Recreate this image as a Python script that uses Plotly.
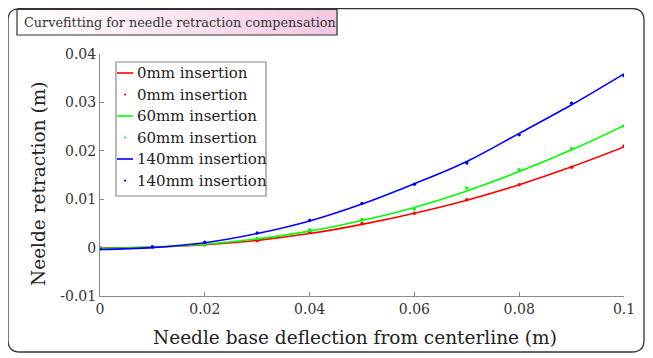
import plotly.graph_objects as go

# ---- data ----
x_vals = [0.0, 0.01, 0.02, 0.03, 0.04, 0.05, 0.06, 0.07, 0.08, 0.09, 0.1]

# measured points
pts_0mm = [0.0000, 0.0002, 0.0006, 0.0014, 0.0031, 0.0050, 0.0071, 0.0099, 0.0130, 0.0166, 0.0210]
pts_60mm = [0.0000, 0.0002, 0.0007, 0.0019, 0.0037, 0.0058, 0.0080, 0.0123, 0.0161, 0.0204, 0.0251]
pts_140mm = [-0.0003, 0.0001, 0.0011, 0.0030, 0.0056, 0.0091, 0.0131, 0.0175, 0.0233, 0.0298, 0.0355]

# fitted curves
fit_0mm = [-0.0001, 0.0001, 0.0006, 0.0015, 0.0029, 0.0048, 0.0071, 0.0098, 0.0130, 0.0167, 0.0208]
fit_60mm = [-0.0002, 0.0001, 0.0007, 0.0018, 0.0034, 0.0056, 0.0083, 0.0117, 0.0157, 0.0202, 0.0252]
fit_140mm = [-0.0004, 0.0000, 0.0010, 0.0029, 0.0055, 0.0090, 0.0132, 0.0178, 0.0236, 0.0295, 0.0359]

series_names = ["0mm insertion", "60mm insertion", "140mm insertion"]
series_colors = ["#ff0000", "#00ff00", "#0000ff"]

x_tickvals = [0, 0.02, 0.04, 0.06, 0.08, 0.1]
x_ticktext = ["0", "0.02", "0.04", "0.06", "0.08", "0.1"]
y_tickvals = [-0.01, 0, 0.01, 0.02, 0.03, 0.04]
y_ticktext = ["-0.01", "0", "0.01", "0.02", "0.03", "0.04"]

title_text = "Curvefitting for needle retraction compensation"
x_title = "Needle base deflection from centerline (m)"
y_title = "Neelde retraction (m)"

FONT = "DejaVu Serif, Liberation Serif, serif"
TXT = "#222222"

# ---- geometry (page offset of 8px from the body margin is compensated) ----
OFF = 8
W, H = 653 - OFF, 358 - OFF
L_ref, R_ref, T_ref, B_ref = 100, 624, 54, 296
L, T = L_ref - OFF, T_ref - OFF
R = W - (R_ref - OFF)
B = H - (B_ref - OFF)
pw, ph = W - L - R, H - T - B


def px(xr):
    return (xr - OFF - L) / pw


def py(yr):
    return (H - B - (yr - OFF)) / ph


fig = go.Figure()
for name, color, fit, pts in zip(series_names, series_colors,
                                 [fit_0mm, fit_60mm, fit_140mm],
                                 [pts_0mm, pts_60mm, pts_140mm]):
    fig.add_trace(go.Scatter(x=x_vals, y=fit, mode="lines", name=name, showlegend=False,
                             line=dict(color=color, width=1.6, shape="spline", smoothing=1.0)))
    fig.add_trace(go.Scatter(x=x_vals, y=pts, mode="markers", name=name, showlegend=False,
                             marker=dict(color=color, size=3.5)))

shapes = []
annotations = []

# outer rounded frame
x0, x1, y0, y1, r = 8, 644, 8.6, 352, 12
path = (f"M {px(x0 + r)} {py(y0)} L {px(x1 - r)} {py(y0)} "
        f"Q {px(x1)} {py(y0)} {px(x1)} {py(y0 + r)} L {px(x1)} {py(y1 - r)} "
        f"Q {px(x1)} {py(y1)} {px(x1 - r)} {py(y1)} L {px(x0 + r)} {py(y1)} "
        f"Q {px(x0)} {py(y1)} {px(x0)} {py(y1 - r)} L {px(x0)} {py(y0 + r)} "
        f"Q {px(x0)} {py(y0)} {px(x0 + r)} {py(y0)} Z")
shapes.append(dict(type="path", xref="paper", yref="paper", path=path,
                   line=dict(color="#333333", width=1.3), layer="below"))

# title box with gradient fill (white -> pink)
bx0, bx1, by0, by1 = 17, 337, 9.5, 35
n = 32
for i in range(n):
    t = i / (n - 1)
    rr = 255 - int(t * 12)
    gg = 255 - int(t * 55)
    bb = 255 - int(t * 30)
    xa = bx0 + (bx1 - bx0) * i / n
    xb = bx0 + (bx1 - bx0) * (i + 1) / n
    shapes.append(dict(type="rect", xref="paper", yref="paper",
                       x0=px(xa), x1=px(xb + 0.6), y0=py(by1), y1=py(by0),
                       fillcolor=f"rgb({rr},{gg},{bb})", line=dict(width=0), layer="below"))
shapes.append(dict(type="rect", xref="paper", yref="paper",
                   x0=px(bx0), x1=px(bx1), y0=py(by1), y1=py(by0),
                   line=dict(color="#333333", width=1.2)))
annotations.append(dict(text=title_text, xref="paper", yref="paper",
                        x=px(22), y=py(22.5), xanchor="left", yanchor="middle",
                        showarrow=False, font=dict(family=FONT, size=12.8, color="#333333")))

# legend box (drawn to match the reference's compact legend)
lx0, lx1, ly0, ly1 = 116, 266, 62, 196
shapes.append(dict(type="rect", xref="paper", yref="paper",
                   x0=px(lx0), x1=px(lx1), y0=py(ly1), y1=py(ly0),
                   fillcolor="white", line=dict(color="#888888", width=1.2)))
row_y = [73, 94.5, 116, 137.5, 159, 180.5]
k = 0
for name, color in zip(series_names, series_colors):
    # line sample
    yl = row_y[k]
    shapes.append(dict(type="line", xref="paper", yref="paper",
                       x0=px(117), x1=px(133), y0=py(yl), y1=py(yl),
                       line=dict(color=color, width=1.6)))
    annotations.append(dict(text=name, xref="paper", yref="paper", x=px(134.5), y=py(yl),
                            xanchor="left", yanchor="middle", showarrow=False,
                            font=dict(family=FONT, size=15, color=TXT)))
    k += 1
    # dot sample
    yd = row_y[k]
    shapes.append(dict(type="circle", xref="paper", yref="paper",
                       x0=px(124), x1=px(126.2), y0=py(yd + 1.1), y1=py(yd - 1.1),
                       fillcolor=color, line=dict(color=color, width=0)))
    annotations.append(dict(text=name, xref="paper", yref="paper", x=px(134.5), y=py(yd),
                            xanchor="left", yanchor="middle", showarrow=False,
                            font=dict(family=FONT, size=15, color=TXT)))
    k += 1

# axis titles
annotations.append(dict(text=x_title, xref="paper", yref="paper", x=px(355), y=py(337),
                        xanchor="center", yanchor="middle", showarrow=False,
                        font=dict(family=FONT, size=18.5, color=TXT)))
annotations.append(dict(text=y_title, xref="paper", yref="paper", x=px(38), y=py(184),
                        xanchor="center", yanchor="middle", showarrow=False, textangle=-90,
                        font=dict(family=FONT, size=18.5, color=TXT)))

fig.update_layout(
    width=W, height=H,
    margin=dict(l=L, r=R, t=T, b=B),
    paper_bgcolor="white", plot_bgcolor="white",
    font=dict(family=FONT, color=TXT),
    shapes=shapes,
    annotations=annotations,
    showlegend=False,
)
fig.update_xaxes(range=[0, 0.1], tickvals=x_tickvals, ticktext=x_ticktext,
                 showgrid=False, zeroline=False, showline=True, linecolor="#8a8a8a",
                 linewidth=1, ticks="inside", ticklen=4, tickcolor="#8a8a8a",
                 tickfont=dict(family=FONT, size=14, color="#333333"))
fig.update_yaxes(range=[-0.01, 0.04], tickvals=y_tickvals, ticktext=y_ticktext,
                 showgrid=False, zeroline=False, showline=True, linecolor="#8a8a8a",
                 linewidth=1, ticks="inside", ticklen=4, tickcolor="#8a8a8a",
                 tickfont=dict(family=FONT, size=14, color="#333333"))

fig.write_html("out.html")
